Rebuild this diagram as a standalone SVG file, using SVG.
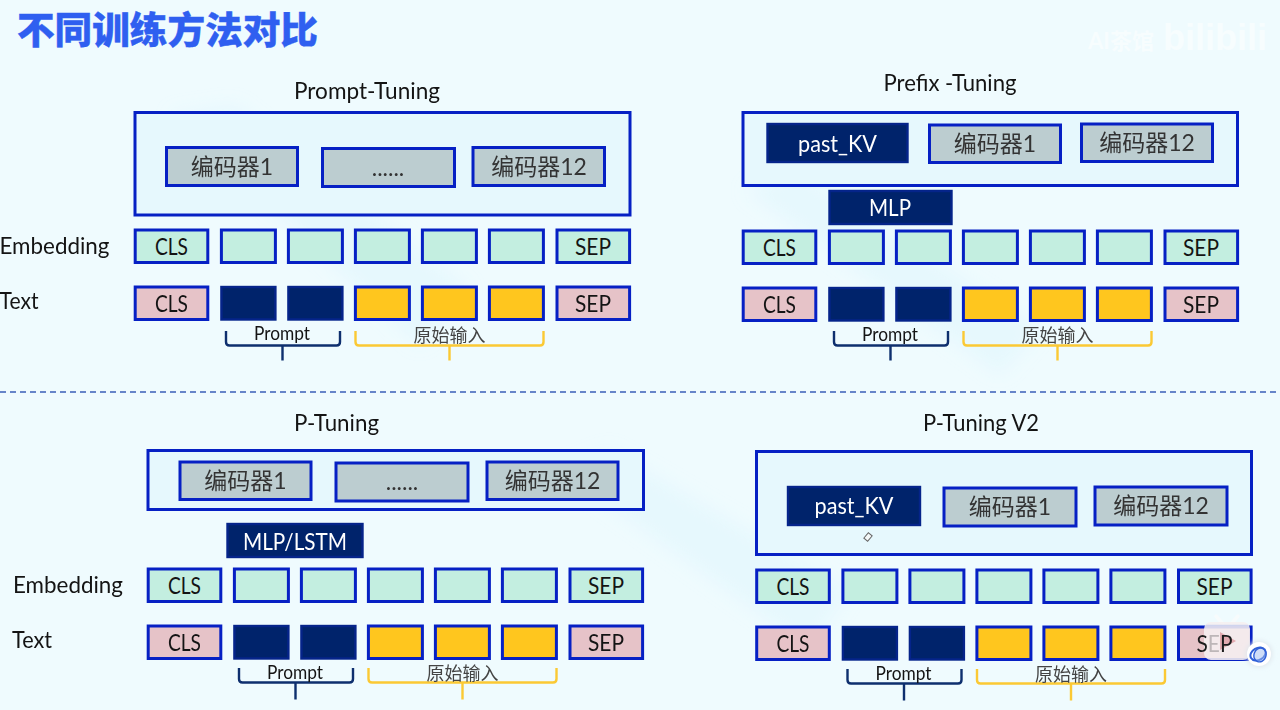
<svg xmlns="http://www.w3.org/2000/svg" width="1280" height="710" viewBox="0 0 1280 710">
<defs>
<style>
text{font-family:Lato,"Noto Sans CJK SC",sans-serif;fill:#141414;text-anchor:middle;font-size:23px}
.outer{fill:#e6f8fd;stroke:#0620c4;stroke-width:3}
.enc{fill:#bccdd0;stroke:#0620c4;stroke-width:3}
.emb{fill:#c3eee0;stroke:#0620c4;stroke-width:3}
.pink{fill:#e6c3c8;stroke:#0620c4;stroke-width:3}
.dark{fill:#00236b;stroke:#05248a;stroke-width:2.4}
.gold{fill:#ffc61e;stroke:#0620c4;stroke-width:3}
text.cj{font-size:23px;fill:#333}
text.w{fill:#fff}
text.lab{font-size:18.500px}
text.lab2{font-size:18px;fill:#444}
.bd{fill:none;stroke:#0e2f6e;stroke-width:2.4}
.by{fill:none;stroke:#fbc934;stroke-width:2.4}
.band{fill:#d6f4fb;opacity:.35}
</style>
<filter id="b" x="-20%" y="-20%" width="140%" height="140%"><feGaussianBlur stdDeviation="9"/></filter>
<filter id="s" x="-40%" y="-40%" width="180%" height="180%"><feGaussianBlur stdDeviation="2.5"/></filter>
</defs>
<rect id="bg" width="1280" height="710" fill="#effbfe"/>
<g id="wash" filter="url(#b)">
<path class="band" d="M170 115L235 105L470 290L420 345Z"/>
<path class="band" d="M745 190L800 170L1040 330L1000 375Z"/>
<path class="band" d="M560 470L610 450L850 590L810 650Z"/>
</g>
<text id="title" x="167.500" y="44" textLength="301" lengthAdjust="spacingAndGlyphs" style="font-size:37px;font-weight:900;fill:#2f5ff0;stroke:#2f5ff0;stroke-width:.4;font-family:'Noto Sans CJK SC',sans-serif">不同训练方法对比</text>
<g id="mark" opacity=".5"><text x="1121" y="49" style="font-size:22px;font-weight:700;fill:#fff">AI茶馆</text><text x="1215" y="50" style="font-size:36px;font-weight:700;fill:#fff;font-family:'Liberation Sans',sans-serif">bilibili</text></g>
<g id="connectors"><line x1="0" y1="392" x2="1280" y2="392" stroke="#3a5fb8" stroke-width="1.3" stroke-dasharray="6 4"/></g>

<g id="prompt-tuning">
<text x="367" y="99" textLength="146" lengthAdjust="spacingAndGlyphs">Prompt-Tuning</text>
<g id="p1-box"><rect class="outer" x="135" y="112.500" width="495" height="102.500"/></g>
<g id="p1-enc1"><rect class="enc" x="166.500" y="147.500" width="131" height="38"/><text class="cj" x="232" y="175">编码器1</text></g>
<g id="p1-mid"><rect class="enc" x="322.500" y="148.500" width="132" height="38"/><text class="cj" x="388" y="176">......</text></g>
<g id="p1-enc12"><rect class="enc" x="473" y="147.500" width="131.500" height="38"/><text class="cj" x="539" y="175">编码器12</text></g>
<text x="54.500" y="254" textLength="110" lengthAdjust="spacingAndGlyphs">Embedding</text>
<text x="19" y="309" textLength="39" lengthAdjust="spacingAndGlyphs">Text</text>
<g transform="translate(0,230)">
<g id="p1-e1"><rect class="emb" x="135.200" width="72.600" height="32.500"/><text x="171.500" y="24.500" textLength="33" lengthAdjust="spacingAndGlyphs">CLS</text></g>
<g id="p1-e2"><rect class="emb" x="221.400" width="54" height="32.500"/></g>
<g id="p1-e3"><rect class="emb" x="288.400" width="54" height="32.500"/></g>
<g id="p1-e4"><rect class="emb" x="355.400" width="54" height="32.500"/></g>
<g id="p1-e5"><rect class="emb" x="422.400" width="54" height="32.500"/></g>
<g id="p1-e6"><rect class="emb" x="489.400" width="54" height="32.500"/></g>
<g id="p1-e7"><rect class="emb" x="557" width="72.600" height="32.500"/><text x="593" y="24.500" textLength="36" lengthAdjust="spacingAndGlyphs">SEP</text></g>
</g>
<g transform="translate(0,287)">
<g id="p1-t1"><rect class="pink" x="135.200" width="72.600" height="32.500"/><text x="171.500" y="24.500" textLength="33" lengthAdjust="spacingAndGlyphs">CLS</text></g>
<g id="p1-t2"><rect class="dark" x="221.400" width="54" height="32.500"/></g>
<g id="p1-t3"><rect class="dark" x="288.400" width="54" height="32.500"/></g>
<g id="p1-t4"><rect class="gold" x="355.400" width="54" height="32.500"/></g>
<g id="p1-t5"><rect class="gold" x="422.400" width="54" height="32.500"/></g>
<g id="p1-t6"><rect class="gold" x="489.400" width="54" height="32.500"/></g>
<g id="p1-t7"><rect class="pink" x="557" width="72.600" height="32.500"/><text x="593" y="24.500" textLength="36" lengthAdjust="spacingAndGlyphs">SEP</text></g>
<path class="bd" d="M226 44v11q0 3.500 3.500 3.500h107q3.500 0 3.500-3.500v-11M282.500 58.500v15"/>
<path class="by" d="M355.500 44v11q0 3.500 3.500 3.500h181q3.500 0 3.500-3.500v-11M449.500 58.500v15"/>
<text class="lab" x="282" y="53" textLength="56" lengthAdjust="spacingAndGlyphs">Prompt</text>
<text class="lab2" x="449.500" y="54.500">原始输入</text>
</g>
</g>

<g id="prefix-tuning">
<text x="950" y="91" textLength="133" lengthAdjust="spacingAndGlyphs">Prefix -Tuning</text>
<g id="p2-box"><rect class="outer" x="743" y="112.500" width="494.500" height="73"/></g>
<g id="p2-kv"><rect class="dark" x="767.500" y="124" width="140" height="38"/><text class="w" x="837.500" y="152" textLength="79" lengthAdjust="spacingAndGlyphs">past_KV</text></g>
<g id="p2-enc1"><rect class="enc" x="929.500" y="125" width="131" height="37.500"/><text class="cj" x="995" y="152">编码器1</text></g>
<g id="p2-enc12"><rect class="enc" x="1081.500" y="124" width="131" height="37.500"/><text class="cj" x="1147" y="151">编码器12</text></g>
<g id="p2-mlp"><rect class="dark" x="829.500" y="191" width="122" height="33"/><text class="w" x="890" y="215.500" textLength="42" lengthAdjust="spacingAndGlyphs">MLP</text></g>
<g transform="translate(608,231)">
<g id="p2-e1"><rect class="emb" x="135.200" width="72.600" height="32.500"/><text x="171.500" y="24.500" textLength="33" lengthAdjust="spacingAndGlyphs">CLS</text></g>
<g id="p2-e2"><rect class="emb" x="221.400" width="54" height="32.500"/></g>
<g id="p2-e3"><rect class="emb" x="288.400" width="54" height="32.500"/></g>
<g id="p2-e4"><rect class="emb" x="355.400" width="54" height="32.500"/></g>
<g id="p2-e5"><rect class="emb" x="422.400" width="54" height="32.500"/></g>
<g id="p2-e6"><rect class="emb" x="489.400" width="54" height="32.500"/></g>
<g id="p2-e7"><rect class="emb" x="557" width="72.600" height="32.500"/><text x="593" y="24.500" textLength="36" lengthAdjust="spacingAndGlyphs">SEP</text></g>
</g>
<g transform="translate(608,288)">
<g id="p2-t1"><rect class="pink" x="135.200" width="72.600" height="32.500"/><text x="171.500" y="24.500" textLength="33" lengthAdjust="spacingAndGlyphs">CLS</text></g>
<g id="p2-t2"><rect class="dark" x="221.400" width="54" height="32.500"/></g>
<g id="p2-t3"><rect class="dark" x="288.400" width="54" height="32.500"/></g>
<g id="p2-t4"><rect class="gold" x="355.400" width="54" height="32.500"/></g>
<g id="p2-t5"><rect class="gold" x="422.400" width="54" height="32.500"/></g>
<g id="p2-t6"><rect class="gold" x="489.400" width="54" height="32.500"/></g>
<g id="p2-t7"><rect class="pink" x="557" width="72.600" height="32.500"/><text x="593" y="24.500" textLength="36" lengthAdjust="spacingAndGlyphs">SEP</text></g>
<path class="bd" d="M226 43v11q0 3.500 3.500 3.500h107q3.500 0 3.500-3.500v-11M282.500 57.500v15"/>
<path class="by" d="M355.500 43v11q0 3.500 3.500 3.500h181q3.500 0 3.500-3.500v-11M449.500 57.500v15"/>
<text class="lab" x="282" y="52.500" textLength="56" lengthAdjust="spacingAndGlyphs">Prompt</text>
<text class="lab2" x="449.500" y="54">原始输入</text>
</g>
</g>

<g id="p-tuning">
<text x="336.500" y="431" textLength="85" lengthAdjust="spacingAndGlyphs">P-Tuning</text>
<g id="p3-box"><rect class="outer" x="148" y="450.500" width="495.500" height="59"/></g>
<g id="p3-enc1"><rect class="enc" x="180" y="462" width="131" height="37.500"/><text class="cj" x="245.500" y="489">编码器1</text></g>
<g id="p3-mid"><rect class="enc" x="336" y="463" width="132" height="38"/><text class="cj" x="402" y="490">......</text></g>
<g id="p3-enc12"><rect class="enc" x="487" y="462" width="131" height="37.500"/><text class="cj" x="552.500" y="489">编码器12</text></g>
<g id="p3-mlp"><rect class="dark" x="227.500" y="524" width="135" height="33"/><text class="w" x="295" y="549.500" textLength="104" lengthAdjust="spacingAndGlyphs">MLP/LSTM</text></g>
<text x="68" y="592.500" textLength="110" lengthAdjust="spacingAndGlyphs">Embedding</text>
<text x="32" y="648" textLength="40" lengthAdjust="spacingAndGlyphs">Text</text>
<g transform="translate(13,569)">
<g id="p3-e1"><rect class="emb" x="135.200" width="72.600" height="32.500"/><text x="171.500" y="24.500" textLength="33" lengthAdjust="spacingAndGlyphs">CLS</text></g>
<g id="p3-e2"><rect class="emb" x="221.400" width="54" height="32.500"/></g>
<g id="p3-e3"><rect class="emb" x="288.400" width="54" height="32.500"/></g>
<g id="p3-e4"><rect class="emb" x="355.400" width="54" height="32.500"/></g>
<g id="p3-e5"><rect class="emb" x="422.400" width="54" height="32.500"/></g>
<g id="p3-e6"><rect class="emb" x="489.400" width="54" height="32.500"/></g>
<g id="p3-e7"><rect class="emb" x="557" width="72.600" height="32.500"/><text x="593" y="24.500" textLength="36" lengthAdjust="spacingAndGlyphs">SEP</text></g>
</g>
<g transform="translate(13,626)">
<g id="p3-t1"><rect class="pink" x="135.200" width="72.600" height="32.500"/><text x="171.500" y="24.500" textLength="33" lengthAdjust="spacingAndGlyphs">CLS</text></g>
<g id="p3-t2"><rect class="dark" x="221.400" width="54" height="32.500"/></g>
<g id="p3-t3"><rect class="dark" x="288.400" width="54" height="32.500"/></g>
<g id="p3-t4"><rect class="gold" x="355.400" width="54" height="32.500"/></g>
<g id="p3-t5"><rect class="gold" x="422.400" width="54" height="32.500"/></g>
<g id="p3-t6"><rect class="gold" x="489.400" width="54" height="32.500"/></g>
<g id="p3-t7"><rect class="pink" x="557" width="72.600" height="32.500"/><text x="593" y="24.500" textLength="36" lengthAdjust="spacingAndGlyphs">SEP</text></g>
<path class="bd" d="M226 42v11q0 3.500 3.500 3.500h107q3.500 0 3.500-3.500v-11M282.500 56.500v17"/>
<path class="by" d="M355.500 42v11q0 3.500 3.500 3.500h181q3.500 0 3.500-3.500v-11M449.500 56.500v17"/>
<text class="lab" x="282" y="52.500" textLength="56" lengthAdjust="spacingAndGlyphs">Prompt</text>
<text class="lab2" x="449.500" y="54">原始输入</text>
</g>
</g>

<g id="p-tuning-v2">
<text x="981" y="431" textLength="116" lengthAdjust="spacingAndGlyphs">P-Tuning V2</text>
<g id="p4-box"><rect class="outer" x="756.500" y="451.500" width="495" height="103"/></g>
<g id="p4-kv"><rect class="dark" x="788" y="487" width="132" height="38"/><text class="w" x="854" y="514" textLength="79" lengthAdjust="spacingAndGlyphs">past_KV</text></g>
<g id="p4-enc1"><rect class="enc" x="944" y="488" width="132" height="38"/><text class="cj" x="1010" y="515">编码器1</text></g>
<g id="p4-enc12"><rect class="enc" x="1095" y="487" width="132" height="38"/><text class="cj" x="1161" y="514">编码器12</text></g>
<rect id="p4-cursor" x="-2.500" y="-3.500" width="5" height="7" transform="translate(868,537) rotate(40)" fill="#f4f8f8" stroke="#666" stroke-width="1"/>
<g transform="translate(621.500,570)">
<g id="p4-e1"><rect class="emb" x="135.200" width="72.600" height="32.500"/><text x="171.500" y="24.500" textLength="33" lengthAdjust="spacingAndGlyphs">CLS</text></g>
<g id="p4-e2"><rect class="emb" x="221.400" width="54" height="32.500"/></g>
<g id="p4-e3"><rect class="emb" x="288.400" width="54" height="32.500"/></g>
<g id="p4-e4"><rect class="emb" x="355.400" width="54" height="32.500"/></g>
<g id="p4-e5"><rect class="emb" x="422.400" width="54" height="32.500"/></g>
<g id="p4-e6"><rect class="emb" x="489.400" width="54" height="32.500"/></g>
<g id="p4-e7"><rect class="emb" x="557" width="72.600" height="32.500"/><text x="593" y="24.500" textLength="36" lengthAdjust="spacingAndGlyphs">SEP</text></g>
</g>
<g transform="translate(621.500,627)">
<g id="p4-t1"><rect class="pink" x="135.200" width="72.600" height="32.500"/><text x="171.500" y="24.500" textLength="33" lengthAdjust="spacingAndGlyphs">CLS</text></g>
<g id="p4-t2"><rect class="dark" x="221.400" width="54" height="32.500"/></g>
<g id="p4-t3"><rect class="dark" x="288.400" width="54" height="32.500"/></g>
<g id="p4-t4"><rect class="gold" x="355.400" width="54" height="32.500"/></g>
<g id="p4-t5"><rect class="gold" x="422.400" width="54" height="32.500"/></g>
<g id="p4-t6"><rect class="gold" x="489.400" width="54" height="32.500"/></g>
<g id="p4-t7"><rect class="pink" x="557" width="72.600" height="32.500"/></g>
<path class="bd" d="M226 42v11q0 3.500 3.500 3.500h107q3.500 0 3.500-3.500v-11M282.500 56.500v17"/>
<path class="by" d="M355.500 42v11q0 3.500 3.500 3.500h181q3.500 0 3.500-3.500v-11M449.500 56.500v17"/>
<text class="lab" x="282" y="52.500" textLength="56" lengthAdjust="spacingAndGlyphs">Prompt</text>
<text class="lab2" x="449.500" y="54">原始输入</text>
</g>
</g>

<g id="player-badge">
<path d="M1216 616l6 7M1238 616l-6 7" stroke="#f7fbfc" stroke-width="3.500" stroke-linecap="round" fill="none"/>
<rect x="1204" y="622" width="46" height="38" rx="7" fill="#f6eff0" opacity=".88"/>
<line x1="1206" y1="625.500" x2="1248" y2="625.500" stroke="#cfd4ee" stroke-width="1.500"/>
<path d="M1220 632L1236 641L1220 650Z" fill="#e2aab0"/>
<text x="1214.500" y="651.500" textLength="36" lengthAdjust="spacingAndGlyphs"><tspan fill="#1c1c1c">S</tspan><tspan fill="#bdb6b8">E</tspan><tspan fill="#1c1c1c">P</tspan></text>
<circle cx="1259" cy="654" r="13" fill="#dfe6ec" filter="url(#s)"/>
<circle cx="1259" cy="654" r="12" fill="#fff"/>
<ellipse cx="1258" cy="654" rx="8" ry="6" transform="rotate(-30 1258 654)" fill="none" stroke="#2f5fd8" stroke-width="2"/>
<ellipse cx="1260" cy="655" rx="6" ry="7" transform="rotate(20 1260 655)" fill="#9fbcf0" fill-opacity=".5" stroke="#2f5fd8" stroke-width="1.400"/>
</g>
</svg>
